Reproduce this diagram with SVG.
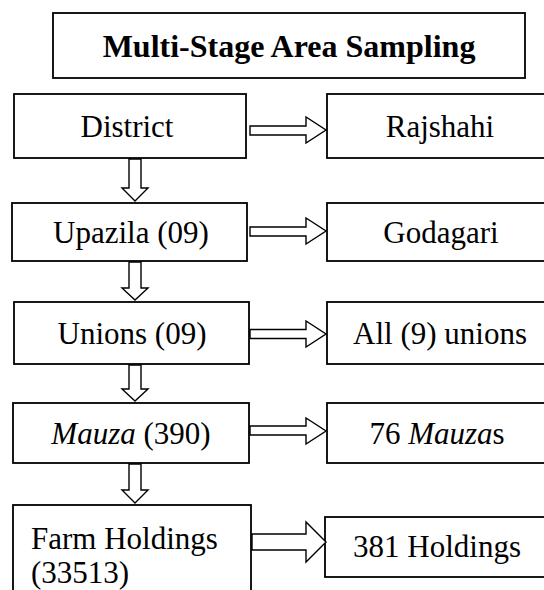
<svg xmlns="http://www.w3.org/2000/svg" width="544" height="590" viewBox="0 0 544 590">
<style>
.box{fill:#fff;stroke:#000;stroke-width:1.8}
.arr{fill:#fff;stroke:#000;stroke-width:1.4;stroke-linejoin:miter}
text{font-family:"Liberation Serif","Tinos","Times New Roman","DejaVu Serif",serif;font-size:31px;fill:#000}
.t{text-anchor:middle}
.title{font-size:32px;font-weight:bold;text-anchor:middle}
</style>
<rect width="544" height="590" fill="#fff"/>
<g id="title">
<rect class="box" x="53" y="13" width="472" height="65"/>
<text class="title" x="289" y="57">Multi-Stage Area Sampling</text>
</g>
<g id="district">
<rect class="box" x="14" y="94" width="232" height="64"/>
<text class="t" x="127" y="136.5">District</text>
</g>
<g id="rajshahi">
<rect class="box" x="327" y="94" width="230" height="64"/>
<text class="t" x="440" y="136.5">Rajshahi</text>
</g>
<g id="upazila">
<rect class="box" x="12" y="203" width="235" height="58"/>
<text class="t" x="131" y="242.5">Upazila (09)</text>
</g>
<g id="godagari">
<rect class="box" x="327" y="203" width="230" height="58"/>
<text class="t" x="441" y="242.5">Godagari</text>
</g>
<g id="unions">
<rect class="box" x="14" y="302" width="235" height="62"/>
<text class="t" x="132" y="344">Unions (09)</text>
</g>
<g id="allunions">
<rect class="box" x="327" y="302" width="230" height="62"/>
<text class="t" x="440" y="344">All (9) unions</text>
</g>
<g id="mauza">
<rect class="box" x="13" y="403" width="236" height="60"/>
<text class="t" x="131" y="443.5"><tspan font-style="italic">Mauza</tspan> (390)</text>
</g>
<g id="mauzas76">
<rect class="box" x="327" y="403" width="230" height="60"/>
<text class="t" x="437" y="443.5">76 <tspan font-style="italic">Mauza</tspan>s</text>
</g>
<g id="farm">
<rect class="box" x="13" y="505" width="238" height="95"/>
<text x="31" y="549">Farm Holdings</text>
<text x="31" y="583">(33513)</text>
</g>
<g id="holdings381">
<rect class="box" x="325" y="517" width="232" height="60"/>
<text class="t" x="437" y="557">381 Holdings</text>
</g>
<g id="connectors">
<path class="arr" d="M250,126 H306 V117 L326,130 L306,143 V135 H250 Z"/>
<path class="arr" d="M250,227 H306 V218 L326,231 L306,244 V236 H250 Z"/>
<path class="arr" d="M250,329.5 H306 V321 L326,334 L306,347 V338.5 H250 Z"/>
<path class="arr" d="M250,426 H306 V418 L326,431 L306,444 V435 H250 Z"/>
<path class="arr" d="M252,534 H306 V522 L326,542 L306,562 V550 H252 Z"/>
<path class="arr" d="M129,159 V188 H122 L135,201 L148,188 H141 V159 Z"/>
<path class="arr" d="M129,262 V288 H122 L135,300 L148,288 H141 V262 Z"/>
<path class="arr" d="M129,365 V389 H122 L135,401 L148,389 H141 V365 Z"/>
<path class="arr" d="M129,464 V490 H122 L135,503 L148,490 H141 V464 Z"/>
</g>
</svg>
